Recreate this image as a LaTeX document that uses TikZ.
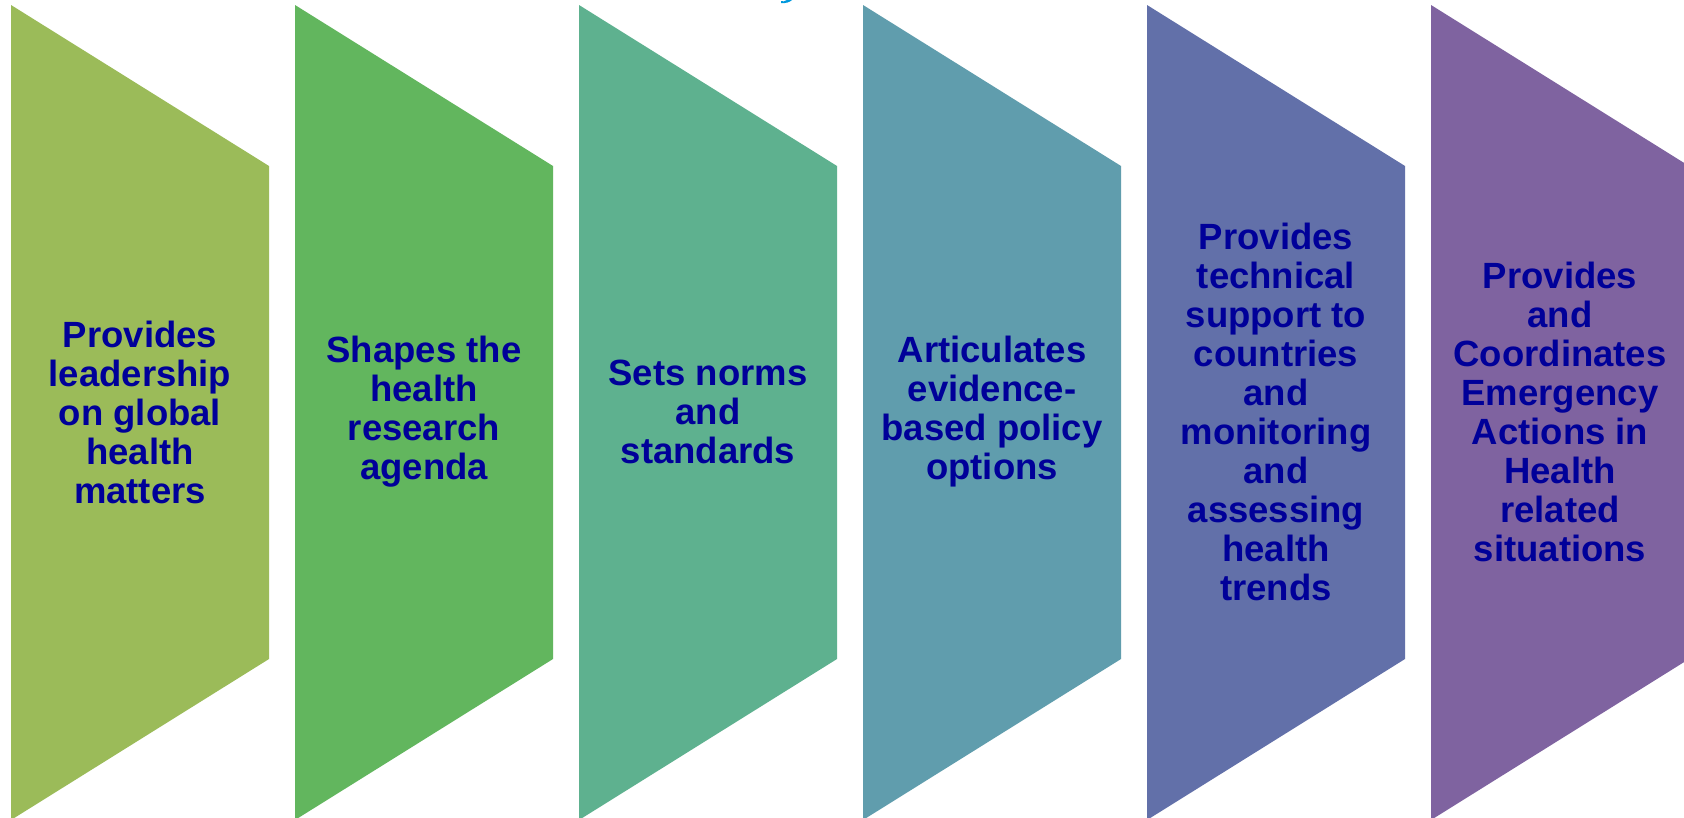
\documentclass[tikz,border=0pt]{standalone}
\usepackage{fontspec}
\setmainfont{Liberation Sans}
\definecolor{c1}{RGB}{155,187,89}
\definecolor{c2}{RGB}{98,182,94}
\definecolor{c3}{RGB}{94,177,143}
\definecolor{c4}{RGB}{96,157,173}
\definecolor{c5}{RGB}{98,112,169}
\definecolor{c6}{RGB}{127,99,160}
\definecolor{txtblue}{RGB}{0,0,153}
\definecolor{titleblue}{RGB}{0,153,221}
\begin{document}
\begin{tikzpicture}[x=1pt,y=-1pt,
  txt/.style={align=center,text=txtblue,inner sep=0pt,
    font=\fontsize{36.5}{39}\selectfont\bfseries}]
\useasboundingbox (0,0) rectangle (1684,817);
\clip (0,0) rectangle (1684,817);
\fill[white] (0,0) rectangle (1684,817);
\foreach \i/\c in {0/c1,1/c2,2/c3,3/c4,4/c5,5/c6}{
  \fill[\c] ({11+284*\i},5) -- ({269+284*\i},166) -- ({269+284*\i},659) -- ({11+284*\i},820) -- cycle;
}
\fill[titleblue] (781,3) .. controls (786,3.6) and (790,2) .. (792,0) -- (787,0) .. controls (785,1.4) and (783,1.6) .. (781,1.2) -- cycle;
\node[txt] (t1) at (140,412) {Provides\\leadership\\on global\\health\\matters};
\node[txt] (t2) at (424,412) {Shapes the\\health\\research\\agenda};
\node[txt] (t3) at (708,412) {Sets norms\\and\\standards};
\node[txt] (t4) at (992,412) {Articulates\\evidence-\\based policy\\options};
\node[txt] (t5) at (1276,412) {Provides\\technical\\support to\\countries\\and\\monitoring\\and\\assessing\\health\\trends};
\node[txt] (t6) at (1560,412) {Provides\\and\\Coordinates\\Emergency\\Actions in\\Health\\related\\situations};
\end{tikzpicture}
\end{document}
